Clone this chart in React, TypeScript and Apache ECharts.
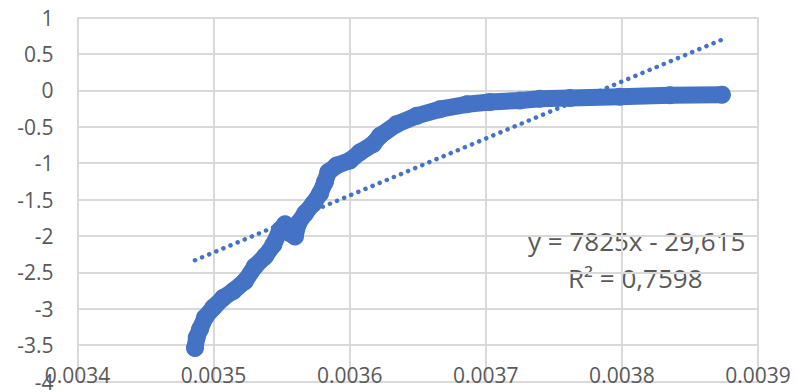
import React, { useEffect, useRef } from "react";
import * as echarts from "echarts";

const xValues = [
  0.0034863, 0.0034876, 0.00349, 0.0034937, 0.0034998, 0.0035071, 0.0035145,
  0.0035231, 0.0035304, 0.0035378, 0.0035439, 0.0035488, 0.0035525, 0.0035561,
  0.0035598, 0.0035622, 0.0035672, 0.0035733, 0.0035782, 0.0035818, 0.0035843,
  0.0035904, 0.0036002, 0.0036076, 0.0036173, 0.0036223, 0.0036345, 0.0036492,
  0.0036663, 0.003686, 0.0037031, 0.0037251, 0.0037398, 0.0037619, 0.0037986,
  0.0038353, 0.0038735,
];
const yValues = [
  -3.54, -3.394, -3.281, -3.121, -2.985, -2.849, -2.757, -2.621, -2.417, -2.281,
  -2.123, -1.918, -1.841, -1.963, -2.008, -1.827, -1.691, -1.554, -1.418, -1.259,
  -1.123, -1.033, -0.965, -0.85, -0.737, -0.624, -0.465, -0.351, -0.26, -0.192,
  -0.161, -0.14, -0.115, -0.105, -0.087, -0.069, -0.06,
];

// Linear trendline reported in the chart
const trendSlope = 7825;
const trendIntercept = -29.615;
const equationText = "y = 7825x - 29,615";
const r2Text = "R² = 0,7598";

// Axis ranges
const X_MIN = 0.0034;
const X_MAX = 0.0039;
const X_STEP = 0.0001;
const Y_MIN = -4;
const Y_MAX = 1;
const Y_STEP = 0.5;

const BLUE = "#4472C4";
const GREY_TEXT = "#595959";
const GRID = "#d9d9d9";
const FONT = "'Open Sans'";

export default function App() {
  const ref = useRef<HTMLDivElement>(null);

  useEffect(() => {
    if (!ref.current) return;
    const chart = echarts.init(ref.current, undefined, { renderer: "svg" });

    const points = xValues.map((x, i) => [x, yValues[i]]);
    const xStart = xValues[0];
    const xEnd = xValues[xValues.length - 1];
    const trend = [
      [xStart, trendSlope * xStart + trendIntercept],
      [xEnd, trendSlope * xEnd + trendIntercept],
    ];

    chart.setOption({
      animation: false,
      backgroundColor: "#ffffff",
      grid: { left: 77.5, right: 38, top: 17.5, bottom: 7.5, containLabel: false },
      xAxis: {
        type: "value",
        min: X_MIN,
        max: X_MAX,
        interval: X_STEP,
        axisLine: { show: false },
        axisTick: { show: false },
        splitLine: { show: true, lineStyle: { color: GRID, width: 2 } },
        axisLabel: {
          color: GREY_TEXT,
          fontFamily: FONT,
          fontSize: 21,
          margin: -17,
          formatter: (v: number) => v.toFixed(4),
        },
      },
      yAxis: {
        type: "value",
        min: Y_MIN,
        max: Y_MAX,
        interval: Y_STEP,
        axisLine: { show: false },
        axisTick: { show: false },
        splitLine: { show: true, lineStyle: { color: GRID, width: 2 } },
        axisLabel: {
          color: GREY_TEXT,
          fontFamily: FONT,
          fontSize: 21,
          margin: 24,
          formatter: (v: number) => String(Math.round(v * 10) / 10),
        },
      },
      series: [
        {
          type: "line",
          data: trend,
          symbol: "none",
          silent: true,
          lineStyle: {
            color: BLUE,
            width: 4.5,
            type: [0.1, 7.6],
            cap: "round",
          },
          z: 2,
        },
        {
          type: "line",
          data: points,
          symbol: "circle",
          symbolSize: 18,
          showSymbol: true,
          itemStyle: { color: BLUE },
          lineStyle: { color: BLUE, width: 17, cap: "round", join: "round" },
          z: 3,
        },
      ],
      graphic: [
        {
          type: "text",
          left: 528,
          top: 228,
          style: {
            text: equationText,
            fill: GREY_TEXT,
            font: `26px ${FONT}`,
          },
        },
        {
          type: "text",
          left: 568,
          top: 265,
          style: {
            text: r2Text,
            fill: GREY_TEXT,
            font: `26px ${FONT}`,
          },
        },
      ],
    });

    return () => chart.dispose();
  }, []);

  return (
    <div
      ref={ref}
      style={{ position: "absolute", left: 0, top: 0, width: 796, height: 392 }}
    />
  );
}
